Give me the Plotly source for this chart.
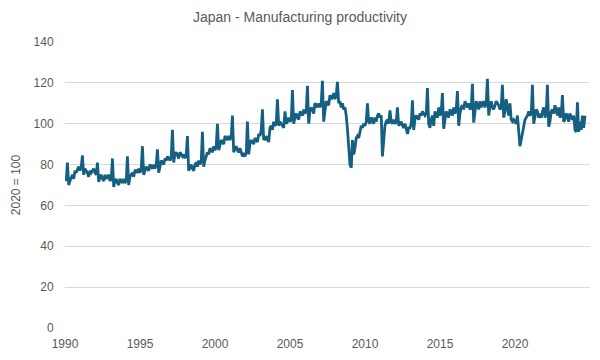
import pandas as pd
import plotly.graph_objects as go

# Monthly values (2020 = 100)
y1990 = [74, 72, 81, 70, 72, 74, 75, 73, 77, 76, 78, 79]
y1991 = [77, 79, 84.5, 75, 78, 77, 76, 74, 77, 76, 77, 78]
y1992 = [76, 75, 81, 71.5, 74, 75, 73, 72, 75, 73, 74, 75]
y1993 = [72, 73, 83, 69, 72, 73, 71, 70, 73, 72, 71, 73]
y1994 = [71, 72, 84, 70, 74, 75, 76, 74, 77, 77, 76, 78]
y1995 = [76, 78, 89, 75, 77, 79, 78, 77, 80, 79, 78, 80]
y1996 = [78, 80, 87.5, 76, 79, 82, 81, 80, 83, 82, 84, 83]
y1997 = [82, 84, 97, 81, 85, 86, 84, 83, 86, 85, 84, 85]
y1998 = [83, 85, 94, 77, 79, 80, 78, 77, 80, 81, 79, 82]
y1999 = [80, 82, 96, 79, 82, 84, 86, 85, 88, 87, 86, 89]
y2000 = [87, 89, 100, 87, 90, 92, 91, 90, 94, 93, 92, 94]
y2001 = [92, 94, 104, 86, 88, 89, 87, 86, 88, 86, 84, 85]
y2002 = [84, 86, 101, 85, 90, 92, 91, 90, 93, 92, 91, 95]
y2003 = [94, 97, 107, 92, 93, 92, 94, 91, 98, 99, 97, 101]
y2004 = [99, 100, 112, 99, 101, 100, 99, 98, 106, 100, 101, 103]
y2005 = [101, 102, 116.5, 100, 103, 105, 103, 102, 106, 105, 104, 107]
y2006 = [105, 106, 118.5, 100, 106, 108, 107, 105, 110, 109, 108, 110]
y2007 = [108, 110, 121, 101, 108, 111, 110, 109, 114, 112, 113, 115]
y2008 = [112, 114, 120.5, 110, 111, 108, 110, 107, 108, 104, 97, 89]
y2009 = [80, 78.5, 92, 85, 88, 93, 94, 93, 97, 99, 98, 100]
y2010 = [99, 101, 110, 101, 100, 103, 102, 100, 103, 101, 104, 105]
y2011 = [103, 104, 84, 93, 99, 101, 102, 100, 106.5, 101, 100, 102]
y2012 = [100, 101, 108, 99, 100, 101, 99, 98, 100, 97, 95, 98]
y2013 = [98, 100, 111.5, 97, 102, 104, 103, 102, 105, 104, 106, 105]
y2014 = [104, 105, 117.5, 100, 98, 102, 104, 99, 106, 104, 103, 108]
y2015 = [104, 106, 115, 97.5, 103, 106, 105, 103, 107, 106, 104, 108]
y2016 = [105, 107, 116, 99, 105, 108, 109, 107, 111, 109, 108, 110]
y2017 = [107, 108, 119.5, 100.5, 107, 111, 109, 107, 111, 108, 110, 111]
y2018 = [108, 110, 122, 104, 108, 111, 108, 107, 109, 111, 110, 109]
y2019 = [107, 108, 119, 103, 106, 112, 108, 104, 110, 102, 101, 102]
y2020 = [101, 100, 104, 95, 89, 92, 96, 98, 102, 103, 104, 106]
y2021 = [104, 105, 119, 100, 103, 107, 106, 103, 104, 103, 106, 108]
y2022 = [103, 105, 119, 98.5, 101, 106, 107, 105, 109, 106, 104, 108]
y2023 = [103, 104, 114, 101, 102, 105, 104, 101, 105, 103, 102, 104]
y2024 = [97, 96, 110.5, 96, 101, 97, 104, 98, 104]

years = [y1990, y1991, y1992, y1993, y1994, y1995, y1996, y1997, y1998, y1999,
         y2000, y2001, y2002, y2003, y2004, y2005, y2006, y2007, y2008, y2009,
         y2010, y2011, y2012, y2013, y2014, y2015, y2016, y2017, y2018, y2019,
         y2020, y2021, y2022, y2023, y2024]
values = [v for yr in years for v in yr]
dates = pd.date_range("1990-01-01", periods=len(values), freq="MS")

tick_years = [1990, 1995, 2000, 2005, 2010, 2015, 2020]
y_ticks = [0, 20, 40, 60, 80, 100, 120, 140]

grey = "#595959"
fig = go.Figure()
fig.add_trace(go.Scatter(
    x=dates, y=values, mode="lines",
    line=dict(color="#156082", width=2.8),
    showlegend=False,
))

fig.update_layout(
    width=600, height=360,
    margin=dict(l=65, r=10, t=42, b=32),
    paper_bgcolor="white", plot_bgcolor="white",
    font=dict(family="Liberation Sans, Arial, sans-serif", color=grey, size=12),
    title=dict(text="Japan - Manufacturing productivity", x=0.5, xanchor="center",
               y=1 - 17 / 360, yanchor="middle", yref="container",
               font=dict(size=14, color=grey)),
    xaxis=dict(
        type="date",
        range=["1990-01-01", "2025-01-01"],
        tickvals=[f"{y}-01-01" for y in tick_years],
        ticktext=[str(y) for y in tick_years],
        showgrid=False, zeroline=False, showline=False,
        ticks="outside", ticklen=5, tickcolor="rgba(0,0,0,0)",
        tickfont=dict(size=12, color=grey),
    ),
    yaxis=dict(
        range=[0, 140],
        tickvals=y_ticks,
        showgrid=True, gridcolor="#d9d9d9", gridwidth=1,
        zeroline=False, showline=False,
        ticks="outside", ticklen=8, tickcolor="rgba(0,0,0,0)",
        tickfont=dict(size=12, color=grey),
        title=dict(text="2020 = 100", font=dict(size=12, color=grey), standoff=10),
    ),
)

fig.write_html("out.html", config={"displayModeBar": False},
               post_script="document.body.style.margin='0';")
